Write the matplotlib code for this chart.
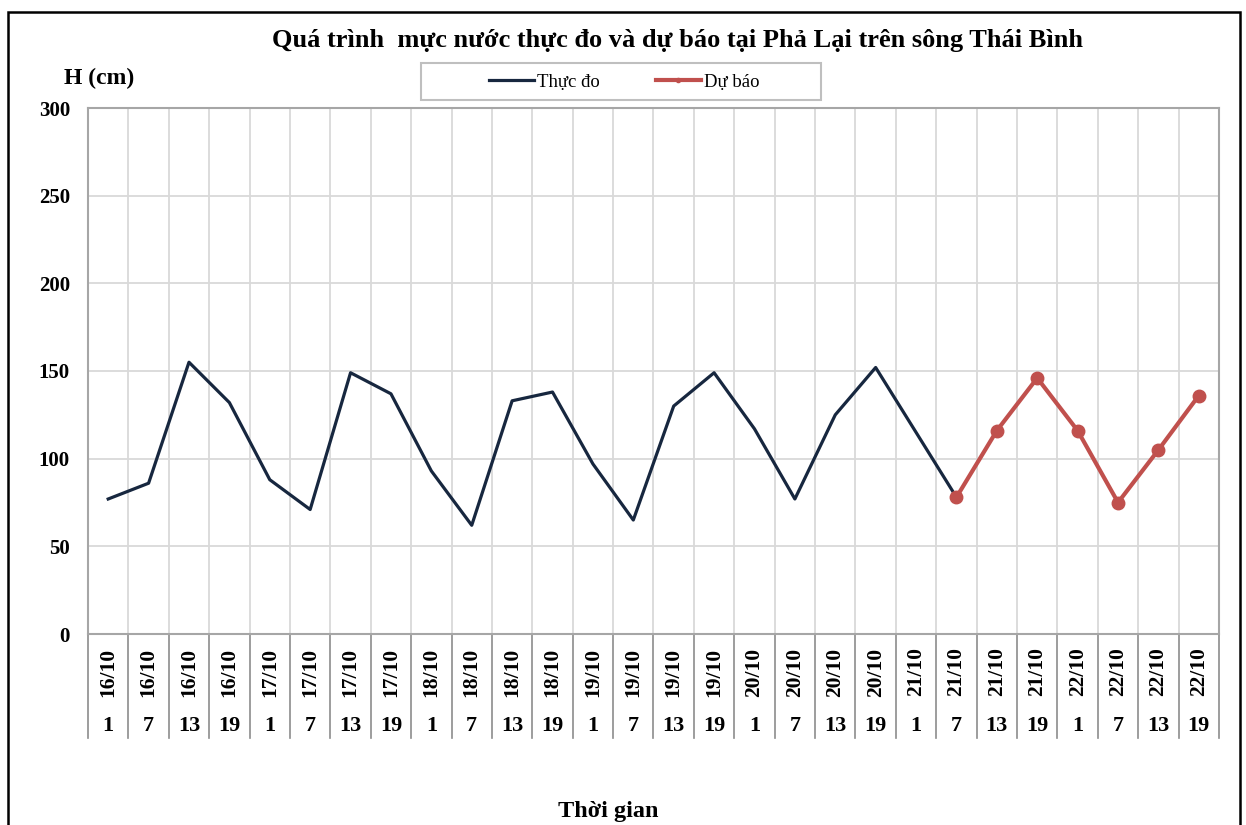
import matplotlib
matplotlib.use("Agg")
import matplotlib.pyplot as plt
from matplotlib.patches import Rectangle
from matplotlib.lines import Line2D
import matplotlib.transforms as mtransforms

plt.rcParams['font.family'] = ['Liberation Serif', 'DejaVu Serif']

days = ["16/10"] * 4 + ["17/10"] * 4 + ["18/10"] * 4 + ["19/10"] * 4 + \
       ["20/10"] * 4 + ["21/10"] * 4 + ["22/10"] * 4
hours = ["1", "7", "13", "19"] * 7

observed = [77, 86, 155, 132, 88, 71, 149, 137, 93, 62, 133, 138,
            97, 65, 130, 149, 117, 77, 125, 152, 115, 78]
forecast = [78, 116, 146, 116, 75, 105, 136]
forecast_start = 21

title = "Quá trình  mực nước thực đo và dự báo tại Phả Lại trên sông Thái Bình"

W, H = 1246, 825
fig = plt.figure(figsize=(W / 100, H / 100), dpi=100)

def fx(px):
    return px / W

def fy(py):
    return 1 - py / H

ax_l, ax_r, ax_t, ax_b = 88, 1219, 108, 634
ax = fig.add_axes([fx(ax_l), fy(ax_b), fx(ax_r) - fx(ax_l), fy(ax_t) - fy(ax_b)])

n = len(days)
xs = list(range(n))
ax.set_xlim(-0.5, n - 0.5)
ax.set_ylim(0, 300)

# grid
for i in range(n - 1):
    ax.axvline(i + 0.5, color="#d9d9d9", lw=1.3, zorder=0)
for v in range(50, 300, 50):
    ax.axhline(v, color="#d9d9d9", lw=1.3, zorder=0)

ax.plot(xs[:len(observed)], observed, color="#17273f", lw=2.3, zorder=3)
fx_x = xs[forecast_start:forecast_start + len(forecast)]
ax.plot(fx_x, forecast, color="#c0504d", lw=3.0, marker="o", markersize=9,
        zorder=4)

for s in ax.spines.values():
    s.set_color("#a6a6a6")
    s.set_linewidth(1.5)

ax.set_yticks(range(0, 301, 50))
ax.set_yticklabels([str(v) for v in range(0, 301, 50)], fontsize=15,
                   fontweight="bold")
ax.tick_params(axis="y", length=0, pad=13)
ax.set_xticks([])

trans = mtransforms.blended_transform_factory(ax.transData, ax.transAxes)
sep_bottom = (ax_b - 738) / (ax_b - ax_t)
for i in range(n + 1):
    ax.plot([i - 0.5, i - 0.5], [0, sep_bottom], transform=trans,
            color="#8c8c8c", lw=1.2, clip_on=False)

day_y = (ax_b - 672) / (ax_b - ax_t)
hour_y = (ax_b - 726) / (ax_b - ax_t)
for i in range(n):
    ax.text(i, day_y, days[i], transform=trans, rotation=90, ha="center",
            va="center", fontsize=15.5, fontweight="bold")
    ax.text(i, hour_y, hours[i], transform=trans, ha="center", va="center",
            fontsize=16, fontweight="bold")

fig.text(fx(677), fy(41), title, ha="center", va="center", fontsize=19,
         fontweight="bold")
fig.text(fx(99), fy(78), "H (cm)", ha="center", va="center", fontsize=17,
         fontweight="bold")
fig.text(fx(608), fy(811), "Thời gian", ha="center", va="center",
         fontsize=17.5, fontweight="bold")

# legend box
fig.patches.append(Rectangle((fx(421), fy(100)), fx(821) - fx(421),
                             fy(63) - fy(100), transform=fig.transFigure,
                             fill=False, edgecolor="#bfbfbf", lw=1.5))
handles = [Line2D([], [], color="#17273f", lw=2.3),
           Line2D([], [], color="#c0504d", lw=3.0, marker="o", markersize=3)]
fig.legend(handles, ["Thực đo", "Dự báo"], loc="center",
           bbox_to_anchor=(fx(624), fy(82)), ncol=2, frameon=False,
           fontsize=13.5, handlelength=2.4, handletextpad=0.15,
           columnspacing=3.0)

# outer border
fig.patches.append(Rectangle((fx(8), -0.02), fx(1240) - fx(8),
                             fy(12) + 0.02, transform=fig.transFigure,
                             fill=False, edgecolor="black", lw=1.8))

fig.savefig("out.png", dpi=100)
